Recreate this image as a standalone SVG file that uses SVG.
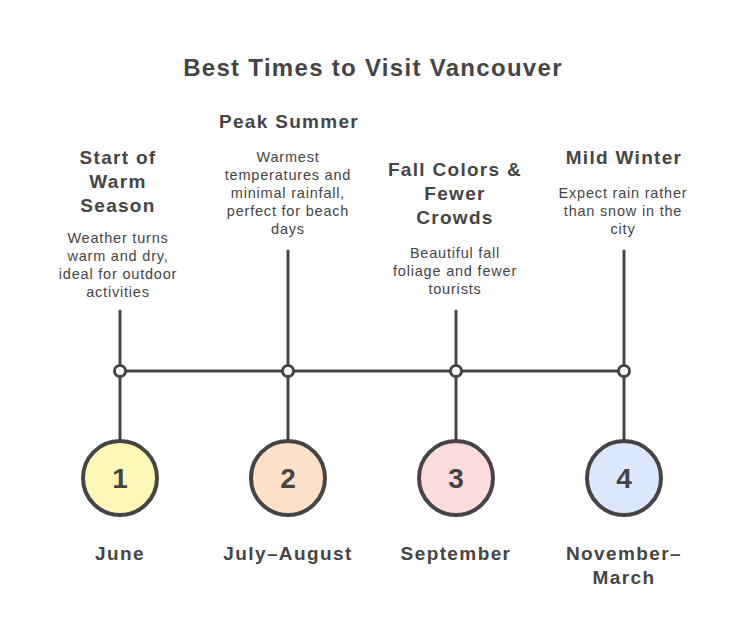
<svg xmlns="http://www.w3.org/2000/svg" width="744" height="636" viewBox="0 0 744 636">
<style>
text{font-family:"Liberation Sans","DejaVu Sans",sans-serif;fill:#454545;text-anchor:middle}
.title{font-size:24px;font-weight:bold;letter-spacing:1.3px}
.head{font-size:19px;font-weight:bold;letter-spacing:1.3px}
.desc{font-size:14.5px;letter-spacing:0.8px}
.num{font-size:28px;font-weight:bold}
.lbl{font-size:19px;font-weight:bold;letter-spacing:1.4px}
.ln{stroke:#454545;stroke-width:3;fill:none;stroke-linecap:round}
.dot{fill:#fff;stroke:#454545;stroke-width:3}
.big{stroke:#454545;stroke-width:4}
</style>
<rect width="744" height="636" fill="#fff"/>
<text class="title" x="373" y="76">Best Times to Visit Vancouver</text>
<g id="connectors">
<path class="ln" d="M120 371 L624 371"/>
<path class="ln" d="M120 311 L120 440"/>
<path class="ln" d="M288 251 L288 440"/>
<path class="ln" d="M456 311 L456 440"/>
<path class="ln" d="M624 251 L624 440"/>
</g>
<g id="node1">
<circle class="dot" cx="120" cy="371" r="5.5"/>
<circle class="big" cx="120" cy="478" r="37" fill="#fff7b8"/>
<text class="num" x="120" y="488">1</text>
<text class="head" x="118" y="164">Start of</text>
<text class="head" x="118" y="188">Warm</text>
<text class="head" x="118" y="212">Season</text>
<text class="desc" x="118" y="243">Weather turns</text>
<text class="desc" x="118" y="261">warm and dry,</text>
<text class="desc" x="118" y="279">ideal for outdoor</text>
<text class="desc" x="118" y="297">activities</text>
<text class="lbl" x="120" y="560">June</text>
</g>
<g id="node2">
<circle class="dot" cx="288" cy="371" r="5.5"/>
<circle class="big" cx="288" cy="478" r="37" fill="#fde1c9"/>
<text class="num" x="288" y="488">2</text>
<text class="head" x="289" y="128">Peak Summer</text>
<text class="desc" x="288" y="162">Warmest</text>
<text class="desc" x="288" y="180">temperatures and</text>
<text class="desc" x="288" y="198">minimal rainfall,</text>
<text class="desc" x="288" y="216">perfect for beach</text>
<text class="desc" x="288" y="234">days</text>
<text class="lbl" x="288" y="560">July–August</text>
</g>
<g id="node3">
<circle class="dot" cx="456" cy="371" r="5.5"/>
<circle class="big" cx="456" cy="478" r="37" fill="#ffdcdc"/>
<text class="num" x="456" y="488">3</text>
<text class="head" x="455" y="176">Fall Colors &amp;</text>
<text class="head" x="455" y="200">Fewer</text>
<text class="head" x="455" y="224">Crowds</text>
<text class="desc" x="455" y="258">Beautiful fall</text>
<text class="desc" x="455" y="276">foliage and fewer</text>
<text class="desc" x="455" y="294">tourists</text>
<text class="lbl" x="456" y="560">September</text>
</g>
<g id="node4">
<circle class="dot" cx="624" cy="371" r="5.5"/>
<circle class="big" cx="624" cy="478" r="37" fill="#dde8fc"/>
<text class="num" x="624" y="488">4</text>
<text class="head" x="624" y="164">Mild Winter</text>
<text class="desc" x="623" y="198">Expect rain rather</text>
<text class="desc" x="623" y="216">than snow in the</text>
<text class="desc" x="623" y="234">city</text>
<text class="lbl" x="624" y="560">November–</text>
<text class="lbl" x="624" y="584">March</text>
</g>
</svg>
